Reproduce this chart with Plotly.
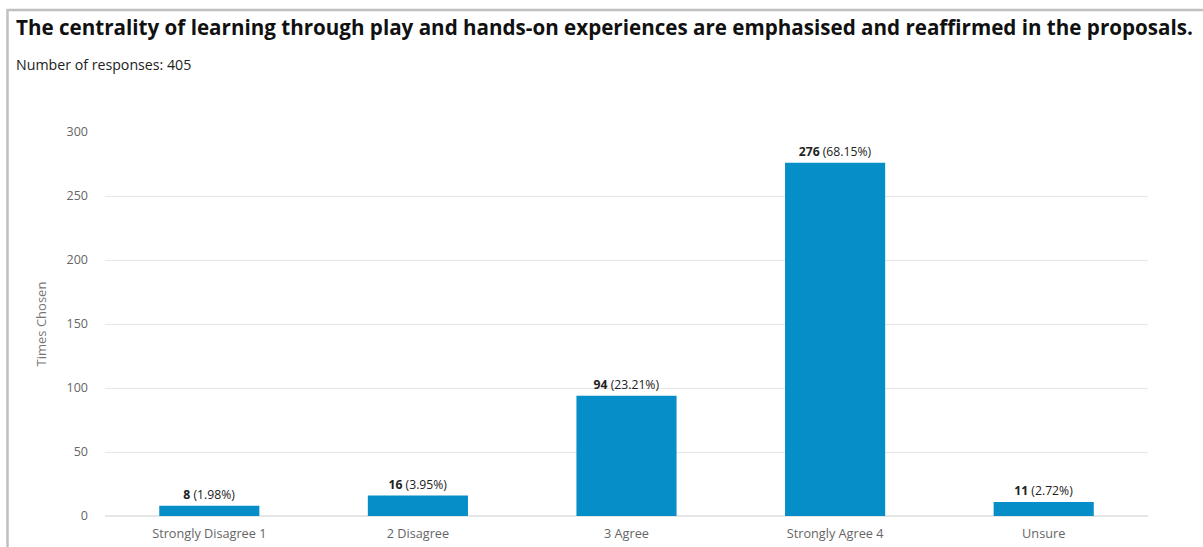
import plotly.graph_objects as go

categories = ["Strongly Disagree 1", "2 Disagree", "3 Agree", "Strongly Agree 4", "Unsure"]
counts = [8, 16, 94, 276, 11]
percents = ["1.98%", "3.95%", "23.21%", "68.15%", "2.72%"]
y_ticks = [0, 50, 100, 150, 200, 250, 300]

title_text = "The centrality of learning through play and hands-on experiences are emphasised and reaffirmed in the proposals."
subtitle_text = "Number of responses: 405"

labels = [f"<b>{c}</b> ({p})" for c, p in zip(counts, percents)]

W, H = 1203, 547
L, R, T, B = 105, 55, 132, 31
pw, ph = W - L - R, H - T - B

def px(x):
    return (x - L) / pw

def py(y):
    return (H - B - y) / ph

fig = go.Figure(go.Bar(
    x=categories, y=counts, text=labels, textposition="outside",
    textfont=dict(family="Open Sans", size=12.2, color="#222222"),
    marker=dict(color="#068ec8", line=dict(width=0)),
    width=0.48, cliponaxis=False, hoverinfo="skip",
))

fig.update_layout(
    width=W, height=H,
    margin=dict(l=L, r=R, t=T, b=B),
    paper_bgcolor="white", plot_bgcolor="white",
    font=dict(family="Open Sans", color="#666666"),
    showlegend=False,
    xaxis=dict(showgrid=False, showline=False, ticks="", ticklabelstandoff=8, automargin=False,
               tickfont=dict(size=12.7, color="#666666")),
    yaxis=dict(range=[0, 300], tickvals=y_ticks, showgrid=True, gridcolor="#e6e6e6",
               gridwidth=1, zeroline=True, zerolinecolor="#e6e6e6", zerolinewidth=2,
               ticks="", ticklabelstandoff=16, automargin=False,
               tickfont=dict(size=12.5, color="#666666"),
               title=dict(text="Times Chosen", font=dict(size=13, color="#777777"), standoff=16)),
    shapes=[
        dict(type="line", xref="paper", yref="paper", x0=px(7), x1=px(1203), y0=py(10), y1=py(10),
             line=dict(color="#c0c0c0", width=2.5), layer="above"),
        dict(type="line", xref="paper", yref="paper", x0=px(7.5), x1=px(7.5), y0=py(9), y1=py(547),
             line=dict(color="#c0c0c0", width=2.5), layer="above"),
    ],
    annotations=[
        dict(text=f"<b>{title_text}</b>", xref="paper", yref="paper", x=px(14), y=py(27),
             xanchor="left", yanchor="middle", showarrow=False,
             font=dict(family="Open Sans", size=20.6, color="#111111")),
        dict(text=subtitle_text, xref="paper", yref="paper", x=px(14), y=py(65),
             xanchor="left", yanchor="middle", showarrow=False,
             font=dict(family="Open Sans", size=14.2, color="#222222")),
    ],
)

fig.write_html("out.html", config={"displayModeBar": False},
               post_script="document.body.style.margin='0px';document.body.style.padding='0px';document.documentElement.style.overflow='hidden';window.scrollTo(0,0);")
